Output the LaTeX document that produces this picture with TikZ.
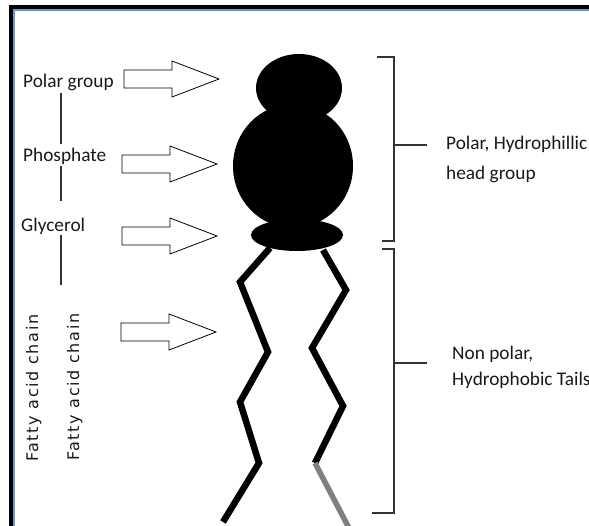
\documentclass[tikz,border=0pt]{standalone}
\usepackage{fontspec}
\setmainfont{Carlito}
\newfontfamily\chainfont{DejaVu Sans}[LetterSpace=10]
\definecolor{frameblue}{RGB}{108,150,208}

% hollow block arrow pointing right, origin at the middle of its tail
\tikzset{blockarrow/.pic={
	\draw[fill=white,line width=0.8pt,line join=miter]
		(0,-9) -- (48,-9) -- (48,-18) -- (95,0) -- (48,18) -- (48,9) -- (0,9) -- cycle;
}}

\begin{document}
\begin{tikzpicture}[x=1pt,y=-1pt]
			\tikzstyle{lbl} = [inner sep=0,anchor=base west,text=black!90,align=left,font=\fontsize{19.3}{30}\selectfont];
			\tikzstyle{chainlbl} = [inner sep=0,anchor=base west,rotate=90,text=black!90,font=\chainfont\fontsize{16}{18}\selectfont];
			\tikzstyle{tail} = [line width=6.5pt,line join=miter];
			\tikzstyle{brace} = [line width=1.1pt,black!80];
			\useasboundingbox (0,0) rectangle (589,526);
			% frame
			\draw[line width=4pt] (11,526) -- (11,7) -- (589,7);
			\draw[frameblue,line width=2pt] (14,526) -- (14,10) -- (589,10);
			% head group
			\fill (299,88) ellipse [x radius=43, y radius=34];
			\fill (293,166) ellipse [x radius=60, y radius=62];
			\fill (297,235) ellipse [x radius=46, y radius=16];
			% tails
			\draw[tail] (270,248) -- (240,282) -- (268,352) -- (240,402) -- (259,463) -- (223,522);
			\draw[tail] (323,250) -- (346,290) -- (312,348) -- (343,406) -- (315,463);
			\draw[tail,gray,line width=5.5pt] (315,463) -- (350,530);
			% labels on the left
			\node[lbl] (polar) at (23,88) {Polar group};
			\node[lbl] (phosphate) at (23,162) {Phosphate};
			\node[lbl] (glycerol) at (21,232) {Glycerol};
			\node[chainlbl] (chainA) at (38,462) {Fatty acid chain};
			\node[chainlbl] (chainB) at (79,461) {Fatty acid chain};
			\coordinate (spine) at (61,0);
			\coordinate (spineend) at (61,285);
			\draw[brace,shorten <=1pt,shorten >=4pt] (spine |- polar.south) -- (spine |- phosphate.north);
			\draw[brace,shorten <=1pt,shorten >=17pt] (spine |- phosphate.south) -- (spine |- glycerol.north);
			\draw[brace] (spine |- glycerol.south) -- (spineend);
			% arrows
			\pic (polarArrow) at (124,79) {blockarrow};
			\pic (phosphateArrow) at (122,164) {blockarrow};
			\pic (glycerolArrow) at (122,236) {blockarrow};
			\pic (chainArrow) at (121,332) {blockarrow};
			% brackets on the right
			\node[lbl] (headlbl) at (446,180) {Polar, Hydrophillic\\head group};
			\node[lbl] (taillbl) at (452,386) {Non polar,\\[-4pt]Hydrophobic Tails};
			\coordinate (headtop) at (377,57);
			\coordinate (headbot) at (382,241);
			\coordinate (tailtop) at (382,249);
			\coordinate (tailbot) at (372,513);
			\draw[brace] (headtop) -- (394,57) -- (394,241) -- (headbot);
			\draw[brace] (394,145) -- (427,145);
			\draw[brace] (tailtop) -- (394,249) -- (394,513) -- (tailbot);
			\draw[brace] (394,363) -- (427,363);
		\end{tikzpicture}
\end{document}
